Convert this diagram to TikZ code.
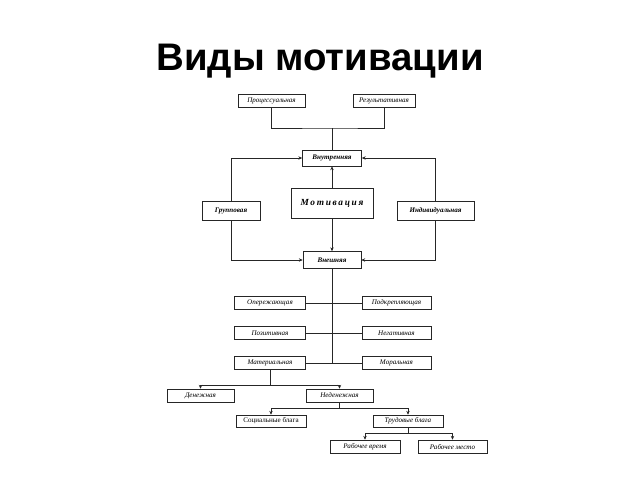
\documentclass[tikz,border=0pt]{standalone}
\usepackage{fontspec}
\setmainfont{Liberation Serif}
\newfontfamily\titlefont{Liberation Sans}
\usetikzlibrary{arrows.meta}
\begin{document}
\begin{tikzpicture}[x=0.75pt,y=-0.75pt,
  box/.style={draw=black!85,line width=0.6pt,inner sep=0pt,minimum height=13*0.75pt,font=\fontsize{5.3}{6}\selectfont\itshape},
  bbox/.style={box,font=\fontsize{5.3}{6}\selectfont\bfseries\itshape},
  ln/.style={draw=black!85,line width=0.6pt},
  arr/.style={ln,-{Stealth[length=2.8pt,width=2.6pt]}}]
\useasboundingbox[fill=white] (0,0) rectangle (640,480);
\node[font=\titlefont\fontsize{28.8}{32}\selectfont\bfseries] (title) at (320,61) {Виды мотивации};

\node[box,minimum width=67*0.75pt] (proc) at (271.5,100.5) {Процессуальная};
\node[box,minimum width=62*0.75pt] (res) at (384,100.5) {Результативная};
\node[bbox,minimum width=59*0.75pt,minimum height=16*0.75pt] (vnutr) at (332,158) {Внутренняя};
\node[box,minimum width=82*0.75pt,minimum height=30*0.75pt,font=\fontsize{7}{8}\selectfont\bfseries\itshape\addfontfeature{LetterSpace=18}] (motiv) at (332,203) {Мотивация};
\node[bbox,minimum width=58*0.75pt,minimum height=19*0.75pt] (grupp) at (231,210.5) {Групповая};
\node[bbox,minimum width=77*0.75pt,minimum height=19*0.75pt] (indiv) at (435.5,210.5) {Индивидуальная};
\node[bbox,minimum width=58*0.75pt,minimum height=17*0.75pt] (vnesh) at (332,260) {Внешняя};

\node[box,minimum width=71*0.75pt] (oper) at (270,303) {Опережающая};
\node[box,minimum width=69*0.75pt] (podkr) at (396.5,303) {Подкрепляющая};
\node[box,minimum width=71*0.75pt] (pozit) at (270,333) {Позитивная};
\node[box,minimum width=69*0.75pt] (negat) at (396.5,333) {Негативная};
\node[box,minimum width=71*0.75pt] (mater) at (270,363) {Материальная};
\node[box,minimum width=69*0.75pt] (moral) at (396.5,363) {Моральная};

\node[box,minimum width=67*0.75pt] (den) at (200.5,395.5) {Денежная};
\node[box,minimum width=67*0.75pt] (neden) at (339.5,395.5) {Неденежная};
\node[box,minimum width=70*0.75pt,minimum height=12*0.75pt,font=\fontsize{5.3}{6}\selectfont] (soc) at (271,421) {Социальные блага};
\node[box,minimum width=70*0.75pt,minimum height=12*0.75pt] (trud) at (408,421) {Трудовые блага};
\node[box,minimum width=70*0.75pt] (rtime) at (365,446.5) {Рабочее время};
\node[box,minimum width=69*0.75pt] (rplace) at (452.5,446.5) {Рабочее место};

% top junction
\coordinate (j1) at (332,128);
\draw[ln] (proc.south) |- (j1) -| (res.south);
\draw[ln] (j1) -- (vnutr.north);
% into Внутренняя
\draw[arr] (grupp.north) |- (vnutr.west);
\draw[arr] (indiv.north) |- (vnutr.east);
\draw[arr] (motiv.north) -- (vnutr.south);
% into Внешняя
\draw[arr] (motiv.south) -- (vnesh.north);
\draw[arr] (grupp.south) |- (vnesh.west);
\draw[arr] (indiv.south) |- (vnesh.east);
% spine
\coordinate (j2) at (332,363);
\draw[ln] (vnesh.south) -- (j2);
\draw[ln] (oper.east) -- (podkr.west);
\draw[ln] (pozit.east) -- (negat.west);
\draw[ln] (mater.east) -- (moral.west);
% Материальная split
\coordinate (j3) at (270,385);
\draw[ln] (mater.south) -- (j3);
\draw[arr] (j3) -| (den.north);
\draw[arr] (j3) -| (neden.north);
% Неденежная split
\coordinate (j4) at (339.5,408);
\draw[ln] (neden.south) -- (j4);
\draw[arr] (j4) -| (soc.north);
\draw[arr] (j4) -| (trud.north);
% Трудовые блага split
\coordinate (j5) at (408,433);
\draw[ln] (trud.south) -- (j5);
\draw[arr] (j5) -| (rtime.north);
\draw[arr] (j5) -| (rplace.north);
\end{tikzpicture}
\end{document}
